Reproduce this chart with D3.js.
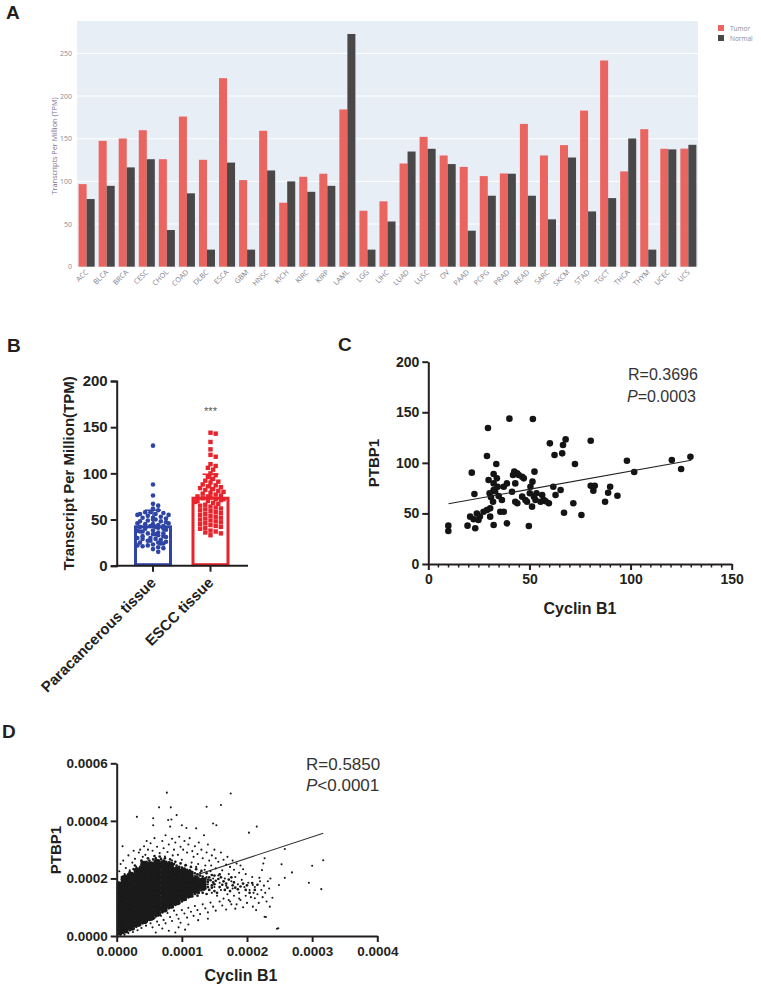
<!DOCTYPE html>
<html><head><meta charset="utf-8">
<script src="https://cdn.jsdelivr.net/npm/d3@7"></script>
<style>body{margin:0;background:#fff}svg{display:block}</style>
</head><body><svg id="c" width="761" height="989"></svg>
<script>
// ---------- Panel A data ----------
const tcgaTypes = ["ACC","BLCA","BRCA","CESC","CHOL","COAD","DLBC","ESCA","GBM","HNSC","KICH","KIRC","KIRP","LAML","LGG","LIHC","LUAD","LUSC","OV","PAAD","PCPG","PRAD","READ","SARC","SKCM","STAD","TGCT","THCA","THYM","UCEC","UCS"];
const tumorTPM = [96.8,147.5,150.3,160,126,176,125.3,221,101.5,159.3,75,105.4,109,184.3,65.6,76.6,121,152.2,130.4,117,106.2,109.3,167.4,130.4,142.5,183,241.7,111.7,161.2,138.2,138.4];
const normalTPM = [79.3,94.8,116.4,126,43,86,20,122,20,112.8,100,87.8,94.8,272.8,20,53,135,138.2,120.3,42.2,83.2,109,83.2,55.5,128,64.8,80.4,150.3,20,137.5,142.9];
const aSeries = ["Tumor","Normal"];
const aTicks = [0,50,100,150,200,250];

// ---------- Panel B data ----------
const bGroups = ["Paracancerous tissue","ESCC tissue"];
const paraTPM = [130,88,76,67,65,62,60,58,58,57,56,56,55,55,54,53,52,52,51,50,50,49,48,48,47,46,46,45,45,44,43,43,42,42,41,40,40,39,38,38,37,37,36,35,35,34,34,33,32,32,31,30,30,29,29,28,27,27,26,25,25,24,24,23,22,22,21,20,19,18,15];
const esccTPM = [144,143,134,126,120,118,110,108,106,104,100,98,96,94,92,91,90,88,87,86,85,84,83,82,81,80,79,78,77,76,75,75,74,73,72,72,71,70,70,69,68,67,66,65,64,63,62,61,60,59,58,57,56,55,54,53,52,51,50,49,48,47,46,45,44,43,42,41,40,38,37,36,35,33];
const bTicks = [0,50,100,150,200];

// ---------- Panel C data ----------
const cCyclinB1 = [9.9,9.9,19.4,20.7,21.5,22.8,23.2,22.4,24,24.8,27.3,29,29.5,29,29.8,30.3,30.6,30.6,32.3,32.3,32.3,32,32.3,33.6,33.9,34.3,34.8,35.6,36.4,37.3,37.3,38.9,38.9,40.1,41.4,41.9,42.5,43,43,43.9,44.7,46.4,46.4,47.2,48,48.8,49.7,50.2,50.5,51.3,51.5,51.7,52.5,52.2,53,55.5,56.3,57.1,59.6,60.1,61.8,62.4,62.9,65.4,66.2,66.6,67.9,67.1,71.7,72.5,75.7,80.3,80.3,81.6,82.3,87.4,88.9,89.9,93.5,98.2,101.8,120.4,125,129.6,25.5,31,44,53.5,58,33];
const cPTBP1 = [37.9,32.6,37.9,46.8,90.3,69.2,35.3,44.2,50,43.5,51.7,53.4,134.4,106.8,83,69.9,46.8,55,89,79.7,73.1,61.6,38.5,98.8,84.7,76.4,67.2,51.7,63.3,51.7,76.4,40.2,79.7,143.7,71.5,88,91.3,79.7,61.6,89.6,88,86.3,66.6,84.7,63.3,61.6,37.6,69.9,76.4,56.7,81.4,143.3,91.3,66.6,63.3,61.6,68.2,63.3,60,119.3,76.4,107.7,68.2,73.1,109.4,117.6,123.2,50.7,60,98.8,48.4,121.9,77.4,72.5,77.4,61.6,70.5,76.4,67.5,102.1,90.9,102.8,93.9,106.1,47,66,60,70,62,72];
const cFitX = [10,130];
const cFitY = [59.5,102.5];
const cXTicks = [0,50,100,150];
const cYTicks = [0,50,100,150,200];

// ---------- Panel D data (units of 1e-6) ----------
const dScatter = "77,498 175,495 65,447 83,447 31,414 84,405 79,403 92,420 138,449 160,455 148,391 153,385 56,409 56,385 9,312 215,380 203,359 100,385 107,375 122,374 82,380 258,302 317,263 300,244 314,163 295,185 269,221 253,249 246,25 229,66 235,102 239,133 249,177 258,202 227,270 225,252 223,229 212,131 209,102 214,90 236,200 209,177 219,202 248,27 227,67 " +
"6,250 10,262 14,236 18,280 20,228 24,255 28,268 30,240 34,290 38,258 12,215 16,205 4,225 40,275 36,300 26,296 42,312 46,330 48,300 44,282 " +
"52,322 55,296 58,340 62,310 66,288 70,330 72,305 75,350 78,292 80,318 85,338 88,300 90,325 94,282 96,345 98,310 60,272 68,270 74,276 86,280 102,300 104,330 108,290 110,318 112,340 116,295 118,275 120,312 124,285 126,325 130,300 132,270 134,350 138,290 140,318 142,262 146,280 150,300 152,270 156,258 160,290 164,265 168,248 170,275 174,240 178,262 180,230 184,252 188,220 190,245 194,232 198,215 " +
"112,230 116,210 118,190 122,240 124,170 128,220 130,195 134,160 136,245 138,205 140,180 144,225 146,150 148,200 150,170 152,235 154,140 156,210 158,185 160,160 162,228 164,130 166,200 168,175 170,145 172,215 174,120 176,190 178,165 180,140 182,205 184,110 186,180 188,150 190,125 192,195 194,100 196,170 198,140 200,115 202,185 204,160 206,135 208,205 210,150 212,170 216,145 218,115 220,190 222,160 224,135 226,175 228,150 230,120 232,190 234,165 " +
"4,8 8,15 12,4 15,22 18,10 22,28 25,14 28,35 32,20 35,42 38,28 42,50 45,36 48,58 52,44 55,30 58,62 62,50 65,38 68,70 72,56 75,44 78,80 82,66 85,52 88,88 92,74 95,60 98,46 100,90 104,78 108,64 110,98 114,84 118,70 120,104 124,90 128,76 132,110 136,96 140,82 144,116 148,102 152,88 158,120 162,106 168,92 172,125 176,110 182,95 188,130 80,18 95,30 110,40 105,22 125,55 140,60 60,12 70,26 90,12 " +
"40,230 50,250 60,255 70,255 85,262 100,265 92,245 78,240 65,235 55,225 115,255 125,250 135,230 145,245 105,245";
const dMid = "8,195 14,210 20,222 26,232 30,228 36,240 40,252 46,258 50,262 56,266 60,268 64,262 68,266 72,262 76,258 80,256 84,252 88,250 92,244 96,240 100,238 104,234 108,230 112,226 116,222 120,218 124,214 128,210 132,206 136,200 140,196 " +
"8,205 18,215 28,245 38,262 48,270 58,278 66,276 74,270 82,266 90,258 98,252 106,246 114,240 122,232 130,226 138,218 146,212 " +
"6,5 10,10 16,14 20,20 26,24 30,32 36,38 40,44 46,50 50,56 56,60 60,68 66,74 70,82 76,88 80,96 86,100 90,108 96,114 100,120 106,126 110,134 116,138 120,146 126,150 130,158 136,164 140,170 146,176 150,180 " +
"126,178 130,186 136,180 140,188 144,194 148,186 152,192 156,198 160,204 142,204 150,210 158,214 164,190 168,182 172,196 176,204 180,186 " +
"114,150 118,160 124,140 128,168 132,150 138,146 142,160 146,168 150,156 154,150 158,170 162,178 166,160 170,168 174,156 178,176 182,168 186,162 190,172 194,182 198,160 200,176 204,150 208,184 212,160 216,178";
const dCore = "3,15 3,33 3,51 3,69 3,87 3,105 3,123 3,141 3,159 3,177 " +
"12,22 12,40 12,58 12,76 12,94 12,112 12,130 12,148 12,166 12,184 12,198 " +
"22,32 22,50 22,68 22,86 22,104 22,122 22,140 22,158 22,176 22,194 22,210 " +
"32,45 32,63 32,81 32,99 32,117 32,135 32,153 32,171 32,189 32,207 32,225 " +
"42,55 42,73 42,91 42,109 42,127 42,145 42,163 42,181 42,199 42,217 42,235 42,248 " +
"52,66 52,84 52,102 52,120 52,138 52,156 52,174 52,192 52,210 52,228 52,246 " +
"62,80 62,98 62,116 62,134 62,152 62,170 62,188 62,206 62,224 62,242 62,254 " +
"72,95 72,113 72,131 72,149 72,167 72,185 72,203 72,221 72,239 72,250 " +
"82,108 82,126 82,144 82,162 82,180 82,198 82,216 82,234 82,245 " +
"92,120 92,138 92,156 92,174 92,192 92,210 92,228 " +
"102,134 102,152 102,170 102,188 102,206 102,224 " +
"112,146 112,164 112,182 112,200 112,216 " +
"122,160 122,178 122,196 132,172 132,190";
const dFitX = [0, 0.000317];
const dFitY = [0.000121, 0.000357];
const dXTicks = [0,0.0001,0.0002,0.0003,0.0004];
const dYTicks = [0,0.0002,0.0004,0.0006];

const parsePairs = s => s.trim().split(/\s+/).map(p => { const [x,y] = p.split(",").map(Number); return {x:x*1e-6, y:y*1e-6}; });

const svg = d3.select("#c");
const SANS = "'Liberation Sans', Arial, sans-serif";
const INK = "#231f20";

function panelLabel(t,x,y){ svg.append("text").attr("x",x).attr("y",y).text(t).attr("font-family",SANS).attr("font-weight","bold").attr("font-size",19).attr("fill",INK); }
panelLabel("A",6,19); panelLabel("B",7,352); panelLabel("C",338,351); panelLabel("D",2,738);

// ================= Panel A =================
(function(){
  const L=77,R=698,T=21,B=266.7;
  const g = svg.append("g");
  const x0 = d3.scaleBand().domain(tcgaTypes).range([L,R]).paddingInner(0.2).paddingOuter(0.08);
  const x1 = d3.scaleBand().domain(aSeries).range([0,x0.bandwidth()]);
  const y = d3.scaleLinear().domain([0,288]).range([B,T]);
  const col = d3.scaleOrdinal().domain(aSeries).range(["#ea6560","#4a4748"]);
  g.append("rect").attr("x",L).attr("y",T).attr("width",R-L).attr("height",B-T).attr("fill","#e8eef6");
  g.selectAll("line.grid").data(aTicks.filter(d=>d>0)).join("line").attr("x1",L).attr("x2",R).attr("y1",d=>y(d)).attr("y2",d=>y(d)).attr("stroke","#fff").attr("stroke-width",1);
  const rows = tcgaTypes.map((t,i)=>({t, v:[tumorTPM[i], normalTPM[i]]}));
  const grp = g.selectAll("g.cat").data(rows).join("g").attr("transform",d=>`translate(${x0(d.t)},0)`);
  grp.selectAll("rect").data(d=>aSeries.map((s,j)=>({s,v:d.v[j]}))).join("rect")
    .attr("x",d=>x1(d.s)).attr("width",x1.bandwidth()).attr("y",d=>y(d.v)).attr("height",d=>B-y(d.v)).attr("fill",d=>col(d.s));
  const yAx = g.append("g").attr("transform",`translate(${L-4},0)`).call(d3.axisLeft(y).tickValues(aTicks).tickSize(0).tickPadding(1));
  yAx.select(".domain").remove();
  yAx.selectAll("text").attr("font-family","'Open Sans', sans-serif").attr("font-size",7).attr("fill","#8a8a96");
  g.append("text").attr("transform",`translate(57,${(T+B)/2+2}) rotate(-90)`).attr("text-anchor","middle")
    .attr("font-family","'Open Sans', sans-serif").attr("font-size",7.3).attr("fill","#7d6f93").text("Transcripts Per Million (TPM)");
  g.selectAll("text.xl").data(tcgaTypes).join("text").attr("class","xl")
    .attr("transform",d=>`translate(${x0(d)+x0.bandwidth()/2+2},${B+6}) rotate(-45)`).attr("text-anchor","end")
    .attr("font-family","'Open Sans', sans-serif").attr("font-size",7.2).attr("fill","#80808c").text(d=>d);
  const lg = g.selectAll("g.lg").data(aSeries).join("g").attr("transform",(d,i)=>`translate(718,${25+i*10})`);
  lg.append("rect").attr("width",6).attr("height",6).attr("fill",d=>col(d));
  lg.append("text").attr("x",12).attr("y",5.5).attr("font-family","'Open Sans', sans-serif").attr("font-size",6.5).attr("fill","#8a8a96").text(d=>d);
})();

// ================= Panel B =================
(function(){
  const L=116.7, B=565.7, T=381, R=248;
  const g = svg.append("g");
  const y = d3.scaleLinear().domain([0,200]).range([B,T]);
  const x = d3.scaleOrdinal().domain(bGroups).range([153,210.5]);
  const colors = {"Paracancerous tissue":"#2f45a6","ESCC tissue":"#e8232b"};
  const sets = [{g:bGroups[0], v:paraTPM, shape:"circle"},{g:bGroups[1], v:esccTPM, shape:"square"}];
  const halfW = 17.5;
  sets.forEach(s=>{
    const m = d3.mean(s.v), sd = d3.deviation(s.v), cx = x(s.g), c = colors[s.g];
    g.append("rect").attr("x",cx-halfW).attr("y",y(m)).attr("width",2*halfW).attr("height",B-y(m)-1)
      .attr("fill","#fff").attr("stroke",c).attr("stroke-width",3);
    const r = 2.3, placed = [];
    const sorted = s.v.slice().sort((a,b)=>b-a);
    sorted.forEach(v=>{
      const py = y(v); let best=null;
      for(let k=0;k<16;k++){
        const off = (k%2? 1:-1)*Math.ceil(k/2)*2.6;
        if(Math.abs(off)>halfW-2) continue;
        const px = cx+off;
        if(placed.every(p=>Math.hypot(p.x-px,p.y-py)>=2*r-0.3)){best=px;break;}
      }
      if(best===null){ const k=placed.length%13; best = cx + (k-6)*2.6; }
      placed.push({x:best,y:py});
    });
    if(s.shape==="circle"){
      g.selectAll(null).data(placed).join("circle").attr("cx",d=>d.x).attr("cy",d=>d.y).attr("r",r).attr("fill",c);
    } else {
      g.selectAll(null).data(placed).join("rect").attr("x",d=>d.x-2.2).attr("y",d=>d.y-2.2).attr("width",4.4).attr("height",4.4).attr("fill",c);
    }
    g.append("line").attr("x1",cx).attr("x2",cx).attr("y1",y(m)).attr("y2",y(m+sd)).attr("stroke",c).attr("stroke-width",1.5);
    g.append("line").attr("x1",cx-8).attr("x2",cx+8).attr("y1",y(m+sd)).attr("y2",y(m+sd)).attr("stroke",c).attr("stroke-width",1.5);
  });
  const yAx = g.append("g").attr("transform",`translate(${L},0)`).call(d3.axisLeft(y).tickValues(bTicks).tickSize(6).tickPadding(3));
  yAx.select(".domain").attr("stroke",INK).attr("stroke-width",2);
  yAx.selectAll(".tick line").attr("stroke",INK).attr("stroke-width",2);
  yAx.selectAll("text").attr("font-family",SANS).attr("font-weight","bold").attr("font-size",15).attr("fill",INK);
  g.append("line").attr("x1",L-1).attr("x2",R).attr("y1",B).attr("y2",B).attr("stroke",INK).attr("stroke-width",2);
  bGroups.forEach(gr=>{
    g.append("line").attr("x1",x(gr)).attr("x2",x(gr)).attr("y1",B).attr("y2",B+6).attr("stroke",INK).attr("stroke-width",2);
    g.append("text").attr("transform",`translate(${x(gr)+4},${B+18}) rotate(-45)`).attr("text-anchor","end")
      .attr("font-family",SANS).attr("font-weight","bold").attr("font-size",15).attr("fill",INK).text(gr);
  });
  g.append("text").attr("transform",`translate(74,${(T+B)/2}) rotate(-90)`).attr("text-anchor","middle")
    .attr("font-family",SANS).attr("font-weight","bold").attr("font-size",15).attr("fill",INK).text("Transcript Per Million(TPM)");
  g.append("text").attr("x",x(bGroups[1])).attr("y",415).attr("text-anchor","middle").attr("font-family",SANS).attr("font-size",11).attr("fill","#555").text("***");
})();

// ================= Panel C =================
(function(){
  const g = svg.append("g");
  const x = d3.scaleLinear().domain([0,150]).range([428.3,731.7]);
  const y = d3.scaleLinear().domain([0,200]).range([564,361.7]);
  const pts = cCyclinB1.map((v,i)=>({x:v,y:cPTBP1[i]}));
  g.selectAll("circle").data(pts).join("circle").attr("cx",d=>x(d.x)).attr("cy",d=>y(d.y)).attr("r",3.3).attr("fill","#141414");
  g.append("line").attr("x1",x(cFitX[0])).attr("y1",y(cFitY[0])).attr("x2",x(cFitX[1])).attr("y2",y(cFitY[1])).attr("stroke","#222").attr("stroke-width",1.1);
  const xAx = g.append("g").attr("transform","translate(0,564)").call(d3.axisBottom(x).tickValues(cXTicks).tickSize(6).tickPadding(4).tickSizeOuter(0));
  const minor = d3.range(0,151,5).filter(v=>v%50!==0);
  g.selectAll("line.minor").data(minor).join("line").attr("x1",d=>x(d)).attr("x2",d=>x(d)).attr("y1",564).attr("y2",567.5).attr("stroke",INK).attr("stroke-width",1.5);
  const yAx = g.append("g").attr("transform","translate(428.3,0)").call(d3.axisLeft(y).tickValues(cYTicks).tickSize(6).tickPadding(3).tickSizeOuter(0));
  [xAx,yAx].forEach(a=>{
    a.select(".domain").attr("stroke",INK).attr("stroke-width",2);
    a.selectAll(".tick line").attr("stroke",INK).attr("stroke-width",2);
    a.selectAll("text").attr("font-family",SANS).attr("font-weight","bold").attr("font-size",14).attr("fill",INK);
  });
  g.append("text").attr("transform",`translate(379,463) rotate(-90)`).attr("text-anchor","middle").attr("font-family",SANS).attr("font-weight","bold").attr("font-size",15).attr("fill",INK).text("PTBP1");
  g.append("text").attr("x",580).attr("y",614).attr("text-anchor","middle").attr("font-family",SANS).attr("font-weight","bold").attr("font-size",16).attr("fill",INK).text("Cyclin B1");
  g.append("text").attr("x",628).attr("y",380).attr("font-family",SANS).attr("font-size",16).attr("fill","#333").text("R=0.3696");
  const t = g.append("text").attr("x",627).attr("y",402).attr("font-family",SANS).attr("font-size",16).attr("fill","#333");
  t.append("tspan").attr("font-style","italic").text("P"); t.append("tspan").text("=0.0003");
})();

// ================= Panel D =================
(function(){
  const g = svg.append("g");
  const x = d3.scaleLinear().domain([0,0.0004]).range([116.7,377.3]);
  const y = d3.scaleLinear().domain([0,0.0006]).range([936,763.3]);
  svg.append("defs").append("clipPath").attr("id","dclip").append("rect").attr("x",116.7).attr("y",760).attr("width",262).attr("height",176);
  g.append("line").attr("x1",x(dFitX[0])).attr("y1",y(dFitY[0])).attr("x2",x(dFitX[1])).attr("y2",y(dFitY[1])).attr("stroke","#333").attr("stroke-width",1.1);
  const pg = g.append("g").attr("clip-path","url(#dclip)");
  const core = parsePairs(dCore), mid = parsePairs(dMid), scat = parsePairs(dScatter);
  pg.selectAll("circle.core").data(core).join("circle").attr("cx",d=>x(d.x)).attr("cy",d=>y(d.y)).attr("r",3.9).attr("fill","#1a1a1a");
  pg.selectAll("circle.mid").data(mid).join("circle").attr("cx",d=>x(d.x)).attr("cy",d=>y(d.y)).attr("r",1.35).attr("fill","#1a1a1a");
  pg.selectAll("circle.sc").data(scat).join("circle").attr("cx",d=>x(d.x)).attr("cy",d=>y(d.y)).attr("r",1.05).attr("fill","#1a1a1a");
  const fmt = d3.format(".4f");
  const xAx = g.append("g").attr("transform","translate(0,936)").call(d3.axisBottom(x).tickValues(dXTicks).tickFormat(fmt).tickSize(6).tickPadding(4).tickSizeOuter(0));
  const yAx = g.append("g").attr("transform","translate(116.7,0)").call(d3.axisLeft(y).tickValues(dYTicks).tickFormat(fmt).tickSize(6).tickPadding(3).tickSizeOuter(0));
  [xAx,yAx].forEach(a=>{
    a.select(".domain").attr("stroke",INK).attr("stroke-width",2);
    a.selectAll(".tick line").attr("stroke",INK).attr("stroke-width",2);
    a.selectAll("text").attr("font-family",SANS).attr("font-weight","bold").attr("font-size",13.5).attr("fill",INK);
  });
  g.append("text").attr("transform",`translate(61,850) rotate(-90)`).attr("text-anchor","middle").attr("font-family",SANS).attr("font-weight","bold").attr("font-size",15).attr("fill",INK).text("PTBP1");
  g.append("text").attr("x",241).attr("y",981).attr("text-anchor","middle").attr("font-family",SANS).attr("font-weight","bold").attr("font-size",16).attr("fill",INK).text("Cyclin B1");
  g.append("text").attr("x",306).attr("y",770).attr("font-family",SANS).attr("font-size",17).attr("fill","#333").text("R=0.5850");
  const t = g.append("text").attr("x",306).attr("y",791).attr("font-family",SANS).attr("font-size",17).attr("fill","#333");
  t.append("tspan").attr("font-style","italic").text("P"); t.append("tspan").text("<0.0001");
})();
</script></body></html>
